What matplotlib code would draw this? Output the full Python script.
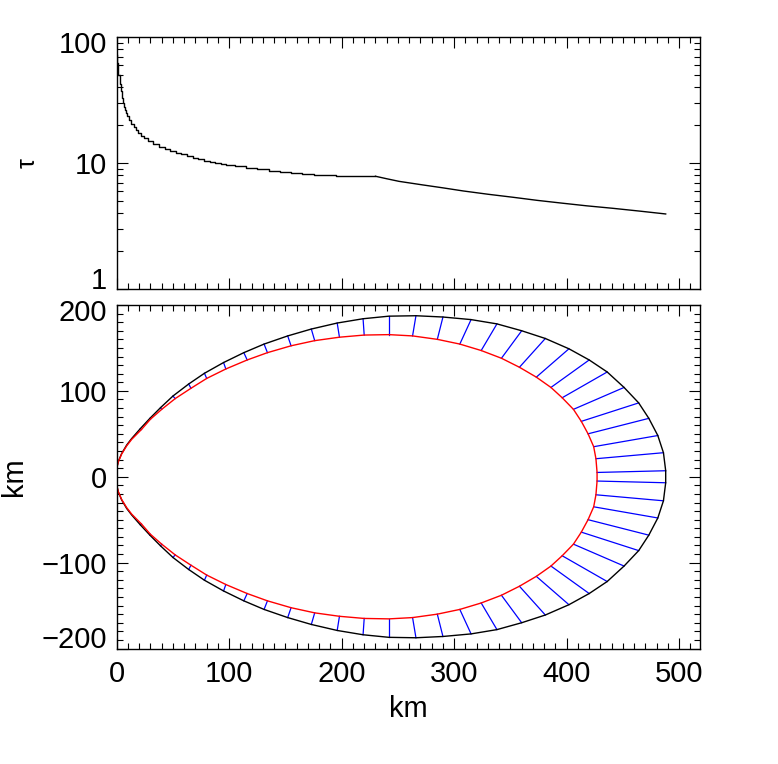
import matplotlib
matplotlib.use("Agg")
import matplotlib.pyplot as plt
from matplotlib.ticker import MultipleLocator, LogLocator, NullFormatter, FixedLocator, FuncFormatter
from matplotlib.transforms import ScaledTranslation

# ---- data ----

# optical depth along the cut: stepped part (x <= 230 km) then smooth part
tau_step_x = [0, 1, 2, 3, 4, 5, 6, 7, 8, 9, 10, 12, 14, 16, 18, 20, 23, 26, 30, 35,
              40, 45, 50, 55, 60, 65, 70, 75, 80, 85, 90, 95, 100, 110, 120, 130,
              140, 150, 160, 170, 180, 190, 200, 210, 220, 230]
tau_step = [72, 62, 50, 42, 37, 33, 30, 28, 26.5, 25, 23.5, 22, 20.5, 19.2, 18.2, 17.4,
            16.5, 15.7, 14.9, 14.1, 13.5, 13.0, 12.5, 12.1, 11.7, 11.4, 11.0, 10.7,
            10.4, 10.2, 10.0, 9.85, 9.7, 9.4, 9.15, 8.9, 8.7, 8.5, 8.35, 8.2, 8.1,
            8.0, 7.95, 7.9, 7.9, 7.85]
tau_tail_x = [230, 240, 251, 272, 290, 308, 330, 352, 374, 396, 418, 441, 465, 488]
tau_tail = [7.85, 7.5, 7.15, 6.7, 6.35, 6.0, 5.65, 5.35, 5.05, 4.8, 4.57, 4.37, 4.15, 3.94]

# outer (black) and inner (red) boundaries, upper half, tip -> nose (km)
outer_x = [0, 0, 1.5, 4.4, 8.9, 13.3, 21, 29.5, 39, 50, 64, 78, 95, 113, 131, 152, 173,
           196, 219, 242, 266, 290, 315, 338, 360, 381, 402, 420, 436, 451, 464, 473,
           481, 486, 488, 488]
outer_y = [0, 10, 18, 27, 37, 44.5, 56, 68, 80.5, 94, 108, 120.5, 133, 144.5, 154.5, 164,
           172, 179, 184, 187, 187.5, 186, 183, 178, 170, 161, 149, 136, 122, 104, 86,
           68, 48, 28, 7, 0]
inner_x = [0, 0, 1.5, 4.4, 8.9, 13.3, 22, 30, 40, 52, 66, 80, 97, 116, 134, 155, 176,
           198, 220, 242, 263, 285, 305, 324, 342, 358, 373, 386, 396, 406, 413, 419,
           424, 426, 427, 427]
inner_y = [0, 10, 17.5, 26.5, 36, 43.5, 55, 67, 78.5, 91, 103, 114.5, 125.5, 136, 144.5,
           152.5, 158.5, 162.5, 165, 165.5, 164, 160, 154.5, 147, 138, 127.5, 116, 104,
           92, 78.5, 64.5, 50, 35, 21, 5, 0]
# blue connectors join outer[i] to inner[i] for these indices
link_idx = list(range(6, 35))

# ---- styling ----
plt.rcParams["font.family"] = ["Liberation Sans", "DejaVu Sans"]
plt.rcParams["font.size"] = 21
plt.rcParams["axes.linewidth"] = 1.0

fig = plt.figure(figsize=(7.78, 7.64), dpi=100)
W, H = 778, 764
L, R = 116.7, 700
ax1 = fig.add_axes([L / W, (H - 289) / H, (R - L) / W, (289 - 37) / H])
ax2 = fig.add_axes([L / W, (H - 648.5) / H, (R - L) / W, (648.5 - 305) / H])


def style_ticks(ax):
    ax.tick_params(which="both", direction="in", top=True, right=True, width=0.8)
    ax.tick_params(which="major", length=8)
    ax.tick_params(which="minor", length=4)
    ax.tick_params(axis="x", pad=8)
    ax.tick_params(axis="y", pad=7)


def edge_label(ax, y, s, where):
    # edge labels sit inside the frame instead of centred on the tick
    if where == "top":
        off = ScaledTranslation(-7 / 72, 4 / 72, fig.dpi_scale_trans)
        va = "top"
    else:
        off = ScaledTranslation(-7 / 72, 0, fig.dpi_scale_trans)
        va = "baseline"
    ax.text(0, y, s, transform=ax.get_yaxis_transform() + off, ha="right", va=va)


# ---- top panel: tau ----
ax1.plot(tau_step_x, tau_step, color="black", lw=1.0, drawstyle="steps-mid")
ax1.plot(tau_tail_x, tau_tail, color="black", lw=1.0)
ax1.set_yscale("log")
ax1.set_ylim(1, 100)
ax1.set_xlim(0, 518.5)
ax1.yaxis.set_major_locator(FixedLocator([1, 10, 100]))
ax1.yaxis.set_minor_locator(LogLocator(base=10, subs=range(2, 10)))
ax1.yaxis.set_minor_formatter(NullFormatter())
ax1.yaxis.set_major_formatter(FuncFormatter(lambda v, p: "10" if v == 10 else ""))
edge_label(ax1, 100, "100", "top")
edge_label(ax1, 1, "1", "bottom")
ax1.xaxis.set_major_locator(MultipleLocator(100))
ax1.xaxis.set_minor_locator(MultipleLocator(10))
ax1.tick_params(labelbottom=False)
style_ticks(ax1)
ax1.set_ylabel("τ", rotation=90, fontsize=18)
ax1.yaxis.set_label_coords((40 - L) / (R - L), 0.5)

# ---- bottom panel: geometry ----
neg = lambda v: [-a for a in v]
ox = outer_x + outer_x[::-1]
oy = outer_y + neg(outer_y[::-1])
ix = inner_x + inner_x[::-1]
iy = inner_y + neg(inner_y[::-1])

for i in link_idx:
    for s in (1, -1):
        ax2.plot([outer_x[i], inner_x[i]], [s * outer_y[i], s * inner_y[i]],
                 color="blue", lw=0.9)
ax2.plot(ox, oy, color="black", lw=1.0)
ax2.plot(ix, iy, color="red", lw=1.0)

ax2.set_xlim(0, 518.5)
ax2.set_ylim(-200, 200)
ax2.xaxis.set_major_locator(MultipleLocator(100))
ax2.xaxis.set_minor_locator(MultipleLocator(10))
ax2.yaxis.set_major_locator(MultipleLocator(100))
ax2.yaxis.set_minor_locator(MultipleLocator(10))
ax2.yaxis.set_major_formatter(FuncFormatter(
    lambda v, p: "" if abs(v) >= 200 else f"{v:.0f}".replace("-", "\u2212")))
edge_label(ax2, 200, "200", "top")
edge_label(ax2, -200, "\u2212200", "bottom")
style_ticks(ax2)
ax2.set_xlabel("km")
ax2.xaxis.set_label_coords(0.5, (648.5 - 695) / (648.5 - 305))
ax2.xaxis.label.set_va("top")
ax2.set_ylabel("km")
ax2.yaxis.set_label_coords((28 - L) / (R - L), 0.5)

fig.savefig("out.png", dpi=100)
